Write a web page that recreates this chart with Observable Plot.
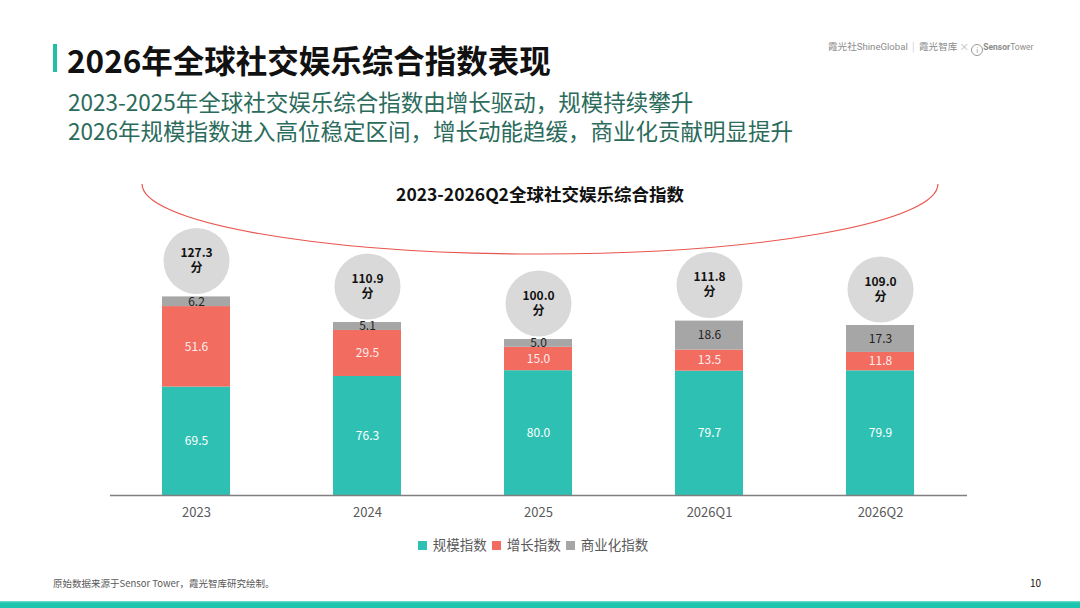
<!DOCTYPE html>
<html><head><meta charset="utf-8">
<script src="https://cdn.jsdelivr.net/npm/d3@7"></script>
<script src="https://cdn.jsdelivr.net/npm/@observablehq/plot@0.6"></script>
<style>
html,body{margin:0;padding:0;background:#fff;}
body{width:1080px;height:608px;position:relative;overflow:hidden;font-family:"Noto Sans CJK SC","Noto Sans",sans-serif;}
.abs{position:absolute;white-space:nowrap;}
#accent{left:53px;top:44px;width:4px;height:28px;background:#1fbfa8;}
#title{left:67px;top:39px;font-size:31.5px;font-weight:700;color:#111;line-height:40px;}
.sub{left:68px;font-size:22.5px;color:#2b6b5b;line-height:28px;}
#logos{left:828px;top:39px;font-size:9.6px;color:#8c8c8c;line-height:14px;}
#ctitle{left:0;width:1080px;text-align:center;top:182px;font-size:17.5px;font-weight:700;color:#111;line-height:24px;}
#legend{left:-8px;width:1080px;top:535px;text-align:center;font-size:13.5px;color:#595959;line-height:18px;}
#legend span.sw{display:inline-block;width:9px;height:9px;margin:0 6px 0 2px;vertical-align:0px;}
#footer{left:53px;top:577px;font-size:9.5px;color:#595959;line-height:12px;}
#page{left:1030px;top:577px;font-size:10px;color:#111;line-height:12px;}
#stripe{left:0;top:601px;width:1080px;height:7px;background:linear-gradient(#7fe0d2 0,#1dc4ae 2px,#1dc4ae 100%);}
#chart{left:0;top:160px;}
#arc{left:0;top:0;pointer-events:none;}
</style></head>
<body>
<div class="abs" id="accent"></div>
<div class="abs" id="title">2026年全球社交娱乐综合指数表现</div>
<div class="abs sub" style="top:87px">2023-2025年全球社交娱乐综合指数由增长驱动，规模持续攀升</div>
<div class="abs sub" style="top:116px">2026年规模指数进入高位稳定区间，增长动能趋缓，商业化贡献明显提升</div>
<div class="abs" id="logos">霞光社<span style="font-family:Roboto">ShineGlobal</span>&nbsp;&nbsp;<span style="color:#ccc">|</span>&nbsp;&nbsp;霞光智库&nbsp;<span style="color:#bbb">×</span>&nbsp;<span style="display:inline-block;width:10px;height:10px;border:1px solid #999;border-radius:50%;vertical-align:-3px;font-size:7px;text-align:center;line-height:10px">i</span><span style="font-family:Roboto;font-size:8.5px"><b>Sensor</b>Tower</span></div>
<div class="abs" id="chart"></div>
<svg class="abs" id="arc" width="1080" height="608"><path d="M 142 184 A 398 70 0 0 0 938 184" fill="none" stroke="#e8564d" stroke-width="1.2"/></svg>
<div class="abs" id="ctitle">2023-2026Q2全球社交娱乐综合指数</div>
<div class="abs" id="legend"><span class="sw" style="background:#2ec1b3"></span>规模指数 <span class="sw" style="background:#f26c60"></span>增长指数 <span class="sw" style="background:#a6a6a6"></span>商业化指数</div>
<div class="abs" id="footer">原始数据来源于Sensor Tower，霞光智库研究绘制。</div>
<div class="abs" id="page">10</div>
<div class="abs" id="stripe"></div>
<script>
const years = ["2023","2024","2025","2026Q1","2026Q2"];
const scaleIdx = [69.5,76.3,80.0,79.7,79.9];
const growthIdx = [51.6,29.5,15.0,13.5,11.8];
const commIdx = [6.2,5.1,5.0,18.6,17.3];
const totals = [127.3,110.9,100.0,111.8,109.0];
const seriesNames = ["规模指数","增长指数","商业化指数"];
const seriesColors = ["#2ec1b3","#f26c60","#a6a6a6"];
const labelColors = ["#ffffff","#ffeeee","#222222"];

const seriesVals = [scaleIdx, growthIdx, commIdx];
const rows = [];
years.forEach((yr, i) => {
  let base = 0;
  seriesVals.forEach((vals, s) => {
    rows.push({year: yr, series: seriesNames[s], s, value: vals[i], mid: base + vals[i] / 2});
    base += vals[i];
  });
});
const tot = years.map((yr, i) => ({year: yr, total: totals[i]}));

const chart = Plot.plot({
  width: 1080,
  height: 400,
  marginLeft: 110,
  marginRight: 113,
  marginTop: 23,
  marginBottom: 65,
  style: {fontFamily: '"Noto Sans CJK SC","Noto Sans",sans-serif', background: "transparent"},
  x: {domain: years, paddingInner: 0.6, paddingOuter: 0.3, label: null},
  y: {domain: [0, 200], axis: null},
  color: {domain: seriesNames, range: seriesColors},
  marks: [
    Plot.barY(rows, {x: "year", y: "value", fill: "series", order: seriesNames}),
    Plot.text(rows, {x: "year", y: "mid", text: d => d.value.toFixed(1), fill: d => labelColors[d.s], fontSize: 12}),
    Plot.dot(tot, {x: "year", y: "total", r: 33, dy: -36, fill: "#d9d9d9", stroke: "none"}),
    Plot.text(tot, {x: "year", y: "total", dy: -37, text: d => d.total.toFixed(1) + "\n分", fontSize: 12, fontWeight: 700, fill: "#111", lineHeight: 1.25}),
    Plot.ruleY([0], {stroke: "#808080", strokeWidth: 1.6}),
    Plot.axisX({tickSize: 0, tickPadding: 12, fontSize: 13, color: "#595959", label: null})
  ]
});
document.getElementById("chart").appendChild(chart);
</script>
</body></html>
